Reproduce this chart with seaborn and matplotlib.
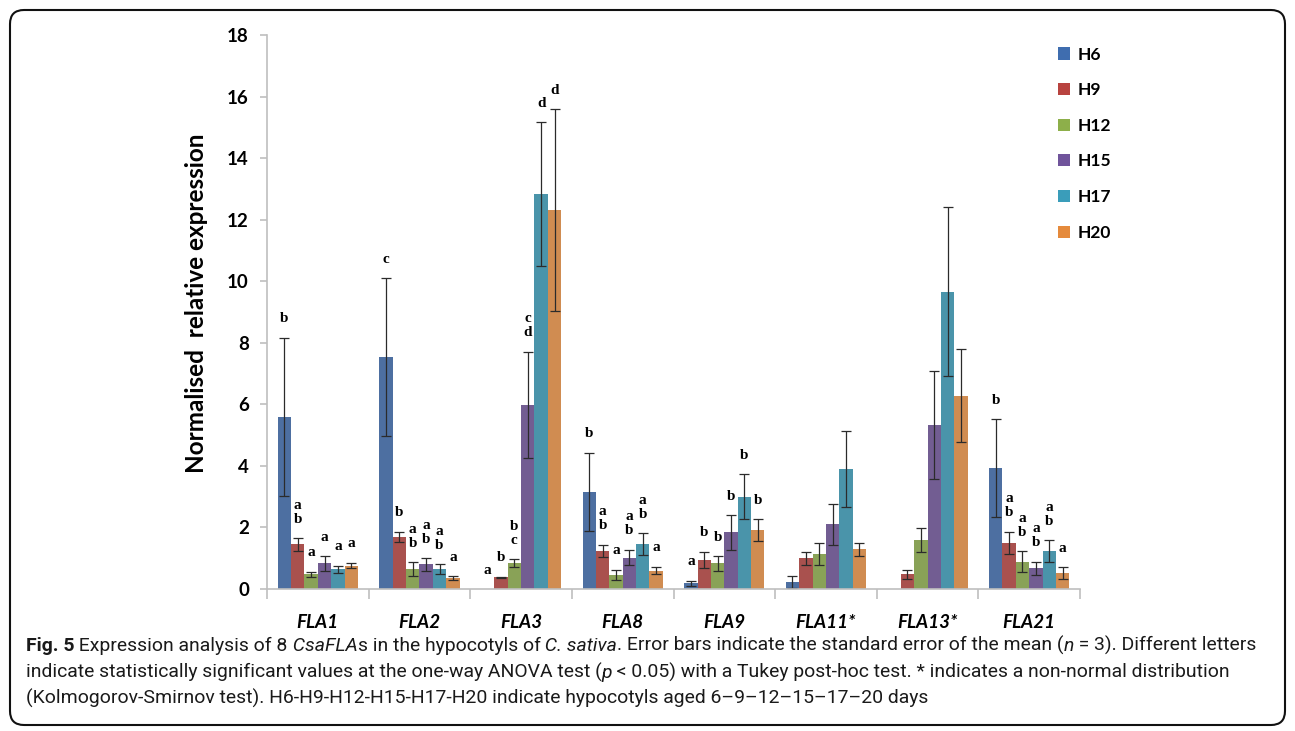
import numpy as np
import pandas as pd
import matplotlib
matplotlib.use("Agg")
import matplotlib.pyplot as plt
from matplotlib.patches import FancyBboxPatch, Patch
from matplotlib.transforms import IdentityTransform
import seaborn as sns

genes = ["FLA1", "FLA2", "FLA3", "FLA8", "FLA9", "FLA11*", "FLA13*", "FLA21"]
stages = ["H6", "H9", "H12", "H15", "H17", "H20"]

# mean expression, one value per gene
h6 = [5.60, 7.53, 0.00, 3.16, 0.18, 0.23, 0.00, 3.92]
h9 = [1.45, 1.70, 0.38, 1.23, 0.94, 1.00, 0.48, 1.50]
h12 = [0.48, 0.64, 0.83, 0.45, 0.83, 1.13, 1.59, 0.89]
h15 = [0.83, 0.80, 5.98, 1.02, 1.84, 2.10, 5.33, 0.67]
h17 = [0.64, 0.64, 12.83, 1.45, 3.00, 3.89, 9.66, 1.23]
h20 = [0.76, 0.35, 12.31, 0.60, 1.92, 1.29, 6.28, 0.51]

# standard error of the mean
se_h6 = [2.57, 2.56, 0.00, 1.26, 0.08, 0.19, 0.00, 1.59]
se_h9 = [0.20, 0.16, 0.02, 0.20, 0.27, 0.21, 0.14, 0.36]
se_h12 = [0.08, 0.23, 0.13, 0.17, 0.24, 0.35, 0.38, 0.33]
se_h15 = [0.24, 0.20, 1.73, 0.25, 0.56, 0.66, 1.76, 0.22]
se_h17 = [0.12, 0.16, 2.33, 0.36, 0.73, 1.24, 2.74, 0.36]
se_h20 = [0.09, 0.07, 3.27, 0.12, 0.35, 0.21, 1.51, 0.19]

# Tukey letters ("" = no letter)
let_h6 = ["b", "c", "a", "b", "a", "", "", "b"]
let_h9 = ["ab", "b", "b", "ab", "b", "", "", "ab"]
let_h12 = ["a", "ab", "bc", "a", "b", "", "", "ab"]
let_h15 = ["a", "ab", "cd", "ab", "b", "", "", "ab"]
let_h17 = ["a", "ab", "d", "ab", "b", "", "", "ab"]
let_h20 = ["a", "a", "d", "a", "b", "", "", "a"]

colors = ["#3F6DAF", "#B8433F", "#8DAF4A", "#70549B", "#3A9DBA", "#E58A3C"]

means = [h6, h9, h12, h15, h17, h20]
ses = [se_h6, se_h9, se_h12, se_h15, se_h17, se_h20]
letters = [let_h6, let_h9, let_h12, let_h15, let_h17, let_h20]

df = pd.DataFrame({
    "gene": genes * len(stages),
    "stage": np.repeat(stages, len(genes)),
    "value": np.concatenate(means),
})

W, H = 1295, 731
fig = plt.figure(figsize=(W / 100, H / 100), dpi=100)
ax = fig.add_axes([267 / W, 1 - 589 / H, (1080 - 267) / W, (589 - 35) / H])

sns.barplot(data=df, x="gene", y="value", hue="stage", palette=colors,
            errorbar=None, width=0.79, linewidth=0, legend=False, ax=ax)

bar_conts = list(ax.containers)
for i, cont in enumerate(bar_conts):
    xs = np.array([b.get_x() + b.get_width() / 2 for b in cont])
    m = np.array(means[i])
    s = np.array(ses[i])
    ok = m > 0
    ax.errorbar(xs[ok], m[ok], yerr=s[ok], fmt="none", ecolor="#2b2b2b",
                elinewidth=0.9, capsize=3.5, capthick=0.9)
    for x, top, lab in zip(xs, m + s, letters[i]):
        if lab:
            ax.annotate("\n".join(lab), (x, top), xytext=(0, 9),
                        textcoords="offset points", ha="center", va="bottom",
                        family="Liberation Serif", fontweight="bold",
                        fontsize=11, linespacing=1.1)

ax.set_ylim(0, 18)
ax.set_yticks(range(0, 19, 2))
ax.set_xlim(-0.5, len(genes) - 0.5)
ax.set_xticks(np.arange(-0.5, len(genes)), minor=True)
ax.set_xlabel("")
ax.set_ylabel("Normalised  relative expression", family="Lato",
              fontweight="bold", fontsize=17.5, labelpad=6)
ax.yaxis.set_label_coords(-0.072, 0.515)

for side in ["top", "right"]:
    ax.spines[side].set_visible(False)
for side in ["left", "bottom"]:
    ax.spines[side].set_color("#BFBFBF")
    ax.spines[side].set_linewidth(1.2)

ax.tick_params(axis="y", length=5, color="#BFBFBF", width=1.2, pad=8)
ax.tick_params(axis="x", which="major", length=0, pad=18)
ax.tick_params(axis="x", which="minor", length=7, color="#BFBFBF", width=1.2)
for t in ax.get_yticklabels():
    t.set_family("Lato")
    t.set_fontweight("bold")
    t.set_fontsize(13.5)
for t in ax.get_xticklabels():
    t.set_family("Lato")
    t.set_fontweight("bold")
    t.set_fontstyle("italic")
    t.set_fontsize(13.5)

handles = [Patch(facecolor=c, edgecolor="none", label=s) for c, s in zip(colors, stages)]
leg = fig.legend(handles=handles, loc="upper left",
                 bbox_to_anchor=(1042 / W, 1 - 31 / H), frameon=False,
                 prop={"family": "Lato", "weight": "bold", "size": 12.5},
                 handlelength=0.7, handleheight=0.7, handletextpad=0.45,
                 labelspacing=1.13)

# caption, drawn piece by piece so italics can sit inside the lines
cap_font = ["Roboto", "DejaVu Sans"]
cap_lines = [
    [("Fig. 5", "bold"), (" Expression analysis of 8", "normal"), (" CsaFLA", "italic"),
     ("s in the hypocotyls of", "normal"), (" C. sativa", "italic"),
     (". Error bars indicate the standard error of the mean (", "normal"), ("n", "italic"),
     (" = 3). Different letters", "normal")],
    [("indicate statistically significant values at the one-way ANOVA test (", "normal"),
     ("p", "italic"), (" < 0.05) with a Tukey post-hoc test. * indicates a non-normal distribution", "normal")],
    [("(Kolmogorov-Smirnov test). H6-H9-H12-H15-H17-H20 indicate hypocotyls aged 6\u20139\u201312\u201315\u201317\u201320 days", "normal")],
]
renderer = fig.canvas.get_renderer()


def draw_caption(size):
    made, ends = [], []
    for k, pieces in enumerate(cap_lines):
        x = 26
        y = H - (651 + k * 26.5)
        for txt, style in pieces:
            t = fig.text(x, y, txt, transform=IdentityTransform(), ha="left", va="baseline",
                         family=cap_font, fontsize=size,
                         fontweight="bold" if style == "bold" else "normal",
                         fontstyle="italic" if style == "italic" else "normal",
                         color="#1a1a1a")
            made.append(t)
            x = t.get_window_extent(renderer).x1
        ends.append(x)
    return made, ends


made, ends = draw_caption(14)
for t in made:
    t.remove()
size = 14 * (1262 - 26) / (ends[0] - 26)
draw_caption(size)

border = FancyBboxPatch((10, 6), W - 20, H - 16, boxstyle="round,pad=0,rounding_size=14",
                        transform=IdentityTransform(), facecolor="none",
                        edgecolor="#111111", linewidth=1.5)
fig.add_artist(border)

fig.savefig("out.png", dpi=100)
